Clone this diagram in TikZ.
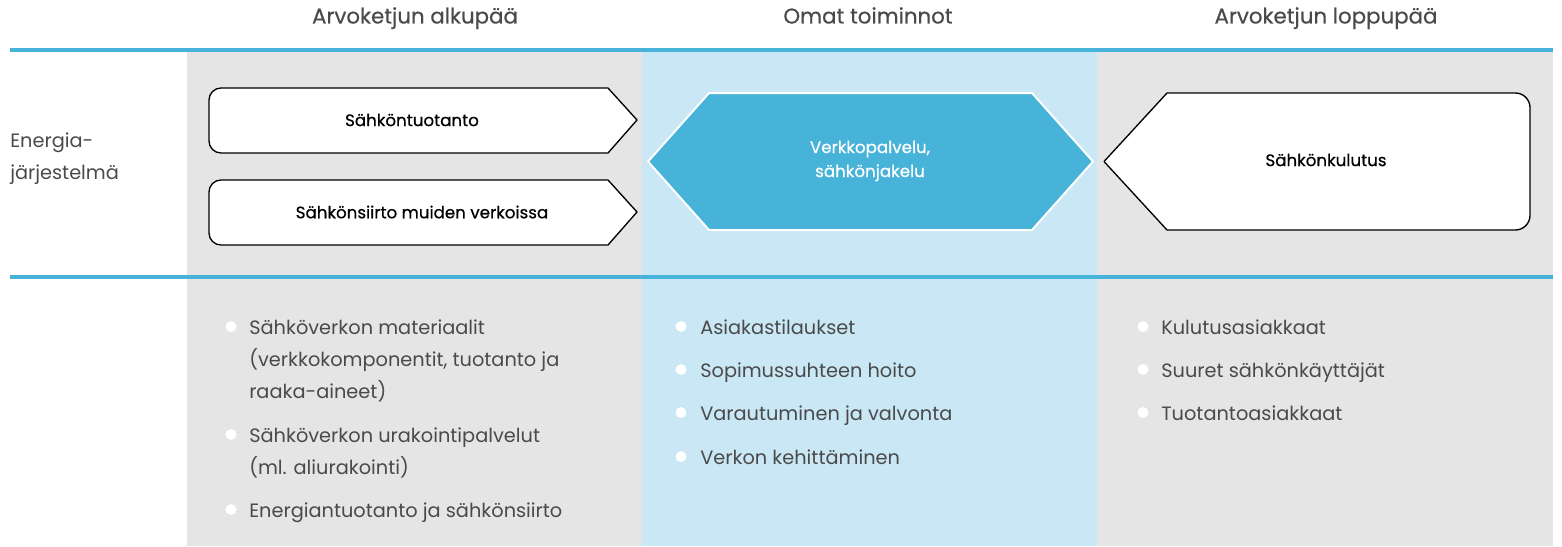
\documentclass[tikz,border=0pt]{standalone}
\usepackage{fontspec}
\setmainfont{Poppins}
\newfontfamily\keski[FakeBold=0.5]{Poppins}
\usetikzlibrary{positioning}
\definecolor{sininen}{HTML}{48B3D9}
\definecolor{vaaleansininen}{HTML}{C9E7F4}
\definecolor{harmaa}{HTML}{E5E5E5}
\definecolor{tummateksti}{HTML}{4A4A4A}
\tikzset{
  viiva/.style={draw=sininen,line width=2.6pt},
  otsikko/.style={anchor=base,text=tummateksti,font=\keski\fontsize{16}{19}\selectfont},
  laatikko/.style={draw=black,fill=white,line width=1pt,line join=round},
  kuusikulmio/.style={draw=white,fill=sininen,line width=1.5pt},
  laatikkoteksti/.style={font=\keski\fontsize{12.5}{18}\selectfont,align=center},
  kohta/.style={anchor=base west,align=left,inner sep=0pt,text=tummateksti,font=\fontsize{14.5}{24}\selectfont}
}

\begin{document}
\begin{tikzpicture}[x=0.75pt,y=-0.75pt]
\useasboundingbox (0,0) rectangle (1562,546);
\fill[harmaa] (187,52) rectangle (642,546);
\fill[vaaleansininen] (642,52) rectangle (1097,546);
\fill[harmaa] (1097,52) rectangle (1553,546);
\draw[viiva] (10,50) -- (1553,50);
\draw[viiva] (10,277) -- (1553,277);

\node[otsikko] (alkupaa) at (415,23.5) {Arvoketjun alkupää};
\node[otsikko] (omat) at (868,23.5) {Omat toiminnot};
\node[otsikko] (loppupaa) at (1326,23.5) {Arvoketjun loppupää};
\node[kohta] (energia) at (10,179) {Energia-\\järjestelmä};

\draw[laatikko] (637,120) -- (608,88) [rounded corners=9pt] -- (209,88) -- (209,153) [sharp corners] -- (608,153) -- cycle;
\draw[laatikko] (637,212) -- (608,180) [rounded corners=9pt] -- (209,180) -- (209,245) [sharp corners] -- (608,245) -- cycle;
\filldraw[kuusikulmio] (648,161.5) -- (709,93) -- (1032,93) -- (1093,161.5) -- (1032,230) -- (709,230) -- cycle;
\draw[laatikko] (1104,161.5) -- (1167,93) [rounded corners=11pt] -- (1530,93) -- (1530,230) [sharp corners] -- (1167,230) -- cycle;

\node[laatikkoteksti] (tuotanto) at (412,120) {Sähköntuotanto};
\node[laatikkoteksti] (siirto) at (422,212) {Sähkönsiirto muiden verkoissa};
\node[laatikkoteksti,text=white] (jakelu) at (870,161) {Verkkopalvelu,\\sähkönjakelu};
\node[laatikkoteksti] (kulutus) at (1326,160) {Sähkönkulutus};

\fill[white] (231,326.5) circle (4.1pt) (231,434.5) circle (4.1pt) (231,509.5) circle (4.1pt)
  (681,326.5) circle (4.1pt) (681,369.5) circle (4.1pt) (681,412.5) circle (4.1pt) (681,456.5) circle (4.1pt)
  (1143,326.5) circle (4.1pt) (1143,369.5) circle (4.1pt) (1143,412.5) circle (4.1pt);

\node[kohta] (materiaalit) at (249,398) {Sähköverkon materiaalit\\(verkkokomponentit, tuotanto ja\\raaka-aineet)};
\node[kohta] (urakointi) at (249,474) {Sähköverkon urakointipalvelut\\(ml. aliurakointi)};
\node[kohta] (energiantuotanto) at (249,517) {Energiantuotanto ja sähkönsiirto};

\node[kohta] (tilaukset) at (700,334) {Asiakastilaukset};
\node[kohta] (sopimus) at (700,377) {Sopimussuhteen hoito};
\node[kohta] (varautuminen) at (700,420) {Varautuminen ja valvonta};
\node[kohta] (kehittaminen) at (700,464) {Verkon kehittäminen};

\node[kohta] (kulutusasiakkaat) at (1161,334) {Kulutusasiakkaat};
\node[kohta] (suuret) at (1161,377) {Suuret sähkönkäyttäjät};
\node[kohta] (tuotantoasiakkaat) at (1161,420) {Tuotantoasiakkaat};
\end{tikzpicture}
\end{document}
